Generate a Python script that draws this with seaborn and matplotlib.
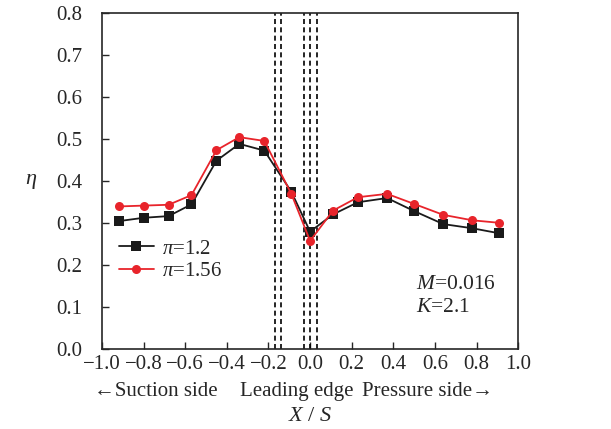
import numpy as np
import pandas as pd
import matplotlib
matplotlib.use("Agg")
import matplotlib.pyplot as plt
import seaborn as sns

x_pos = [-0.92, -0.80, -0.68, -0.57, -0.45, -0.34, -0.22, -0.09, 0.0, 0.11, 0.23, 0.37, 0.50, 0.64, 0.78, 0.91]
eta_12 = [0.305, 0.313, 0.317, 0.345, 0.449, 0.489, 0.473, 0.375, 0.280, 0.321, 0.350, 0.360, 0.329, 0.298, 0.288, 0.276]
eta_156 = [0.340, 0.342, 0.344, 0.367, 0.474, 0.505, 0.496, 0.370, 0.258, 0.330, 0.362, 0.370, 0.346, 0.320, 0.307, 0.301]
hole_x = [-0.17, -0.14, -0.03, 0.0, 0.035]
series_labels = [r"$\pi$=1.2", r"$\pi$=1.56"]
x_ticks = [-1.0, -0.8, -0.6, -0.4, -0.2, 0.0, 0.2, 0.4, 0.6, 0.8, 1.0]
y_ticks = [0.0, 0.1, 0.2, 0.3, 0.4, 0.5, 0.6, 0.7, 0.8]

sns.set_style("ticks")
plt.rcParams['font.family'] = ['Liberation Serif', 'DejaVu Serif']
plt.rcParams['mathtext.fontset'] = 'custom'
plt.rcParams['mathtext.rm'] = 'Liberation Serif'
plt.rcParams['mathtext.it'] = 'Liberation Serif:italic'

df = pd.DataFrame({
    "x": x_pos + x_pos,
    "eta": eta_12 + eta_156,
    "case": [series_labels[0]] * len(x_pos) + [series_labels[1]] * len(x_pos),
})

fig = plt.figure(figsize=(6.11, 4.29), dpi=100)
ax = fig.add_axes([0.167, 0.186, 0.681, 0.783])

for xv in hole_x:
    ax.axvline(xv, color="black", linestyle=(0, (3, 2)), linewidth=1.2, zorder=1)

sns.lineplot(data=df, x="x", y="eta", hue="case", style="case",
             palette={series_labels[0]: "#1a1a1a", series_labels[1]: "#e8242b"},
             markers={series_labels[0]: "s", series_labels[1]: "o"},
             dashes=False, markersize=6.5, markeredgewidth=0, linewidth=1.3,
             ax=ax, zorder=3)

ax.set_xlim(-1.0, 1.0)
ax.set_ylim(0.0, 0.8)
ax.set_xticks(x_ticks)
ax.set_yticks(y_ticks)
ax.set_xticklabels([f"{v:.1f}".replace("-", "\u2212") for v in x_ticks])
ax.set_yticklabels([f"{v:.1f}" for v in y_ticks])
ax.tick_params(direction="in", length=5, width=1, labelsize=15)
ax.tick_params(axis="y", pad=14)
ax.tick_params(axis="x", pad=4)
for s in ax.spines.values():
    s.set_linewidth(1.2)
    s.set_visible(True)

ax.set_xlabel("")
ax.set_ylabel(r"$\eta$", fontsize=16, rotation=0, va="center")
ax.yaxis.set_label_coords(-0.17, 0.5)

leg = ax.legend(loc="lower left", bbox_to_anchor=(-0.01, 0.14), frameon=False,
                fontsize=15, handlelength=1.7, handletextpad=0.4,
                labelspacing=0.15, borderaxespad=0.6)

ax.text(0.755, 0.18, r"$M$=0.016", transform=ax.transAxes, fontsize=15.5)
ax.text(0.755, 0.11, r"$K$=2.1", transform=ax.transAxes, fontsize=15.5)

fig.text(0.255, 0.076, "\u2190Suction side", fontsize=15, ha="center")
fig.text(0.485, 0.076, "Leading edge", fontsize=15, ha="center")
fig.text(0.70, 0.076, "Pressure side\u2192", fontsize=15, ha="center")
fig.text(0.507, 0.018, r"$X$ / $S$", fontsize=16, ha="center")

fig.savefig("out.png", dpi=100)
